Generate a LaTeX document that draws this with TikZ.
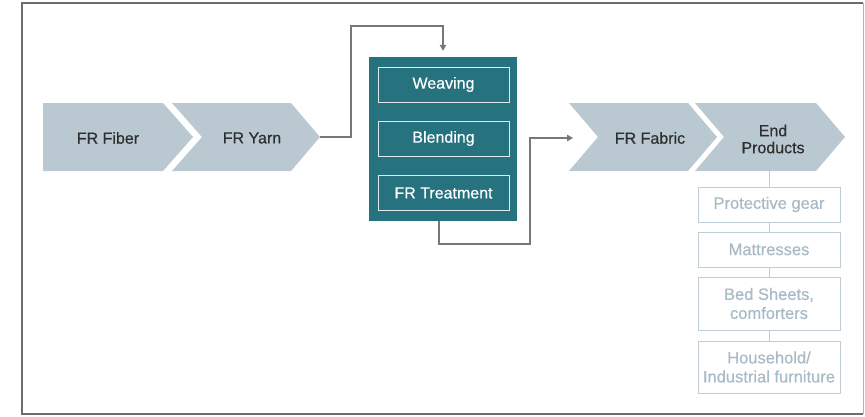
\documentclass[tikz,border=0pt]{standalone}
\usepackage{fontspec}
\setmainfont{Liberation Sans}
\newfontfamily\medfont[FakeBold=0.35]{Liberation Sans}
\usetikzlibrary{arrows.meta}
\definecolor{chev}{HTML}{B9C8D1}
\definecolor{teal}{HTML}{26727F}
\definecolor{dtext}{HTML}{2E2E2E}
\definecolor{lbord}{HTML}{BFCDD5}
\definecolor{ltext}{HTML}{A8BAC5}
\definecolor{conn}{HTML}{777777}
\tikzset{
  chevtext/.style={text=dtext, font=\medfont\fontsize{16}{17}\selectfont, align=center, inner sep=0pt},
  procbox/.style={draw=white!85!teal, line width=0.9pt, text=white, minimum width=131pt, minimum height=35pt, inner sep=0pt, font=\medfont\fontsize{16}{18}\selectfont},
  prodbox/.style={draw=lbord, line width=1pt, fill=white, text=ltext, minimum width=142pt, inner sep=0pt, align=center, font=\medfont\fontsize{16.5}{19}\selectfont},
  link/.style={draw=conn, line width=1.2pt},
  prodlink/.style={draw=lbord, line width=1pt}
}
\begin{document}
\begin{tikzpicture}[x=1pt,y=-1pt]
\useasboundingbox (0,0) rectangle (865,416);
% frame
\draw[draw=gray!60, line width=1pt] (863,3) -- (863,414);
\draw[draw=gray!85!black, line width=1.2pt] (863,3) -- (22,3) -- (22,414) -- (863,414);
% chevrons
\fill[chev] (43,103) -- (163,103) -- (193,137) -- (163,171) -- (43,171) -- cycle;
\fill[chev] (172,103) -- (291,103) -- (320,137) -- (291,171) -- (172,171) -- (202,137) -- cycle;
\fill[chev] (569,103) -- (688,103) -- (717,137) -- (688,171) -- (569,171) -- (598,137) -- cycle;
\fill[chev] (695,103) -- (816,103) -- (845,137) -- (816,171) -- (695,171) -- (724,137) -- cycle;
\node[chevtext] (fiber) at (108,138) {FR Fiber};
\node[chevtext] (yarn) at (252,138) {FR Yarn};
\node[chevtext] (fabric) at (650,138) {FR Fabric};
\node[chevtext] (endp) at (773,139) {End\\Products};
\coordinate (yarntip) at (320,137);
\coordinate (fabin) at (573,138);
\coordinate (endbot) at (769,171);
% process box
\node[fill=teal, minimum width=148pt, minimum height=164pt, inner sep=0pt] (proc) at (443,139) {};
\node[procbox] (weav) at (443.5,84.5) {Weaving};
\node[procbox] (blend) at (443.5,138.5) {Blending};
\node[procbox] (treat) at (443.5,193) {FR Treatment};
% connectors
\draw[link, -{Triangle[length=6pt,width=6.5pt]}, shorten >=6pt] (yarntip) -- (351,137) |- (443,26) -- (proc.north);
\draw[link, -{Triangle[length=6pt,width=6.5pt]}] ([xshift=-4pt]proc.south) -- (439,244) -| (530,138) -- (fabin);
% products
\node[prodbox, minimum height=35pt] (gear) at (769,204.5) {Protective gear};
\node[prodbox, minimum height=35pt] (matt) at (769,249.5) {Mattresses};
\node[prodbox, minimum height=53pt] (bed) at (769,303.5) {Bed Sheets,\\comforters};
\node[prodbox, minimum height=52pt] (house) at (769,367) {Household/\\Industrial furniture};
\draw[prodlink] (endbot) -- (gear.north);
\draw[prodlink] (gear.south) -- (matt.north);
\draw[prodlink] (matt.south) -- (bed.north);
\draw[prodlink] (bed.south) -- (house.north);
\end{tikzpicture}
\end{document}
